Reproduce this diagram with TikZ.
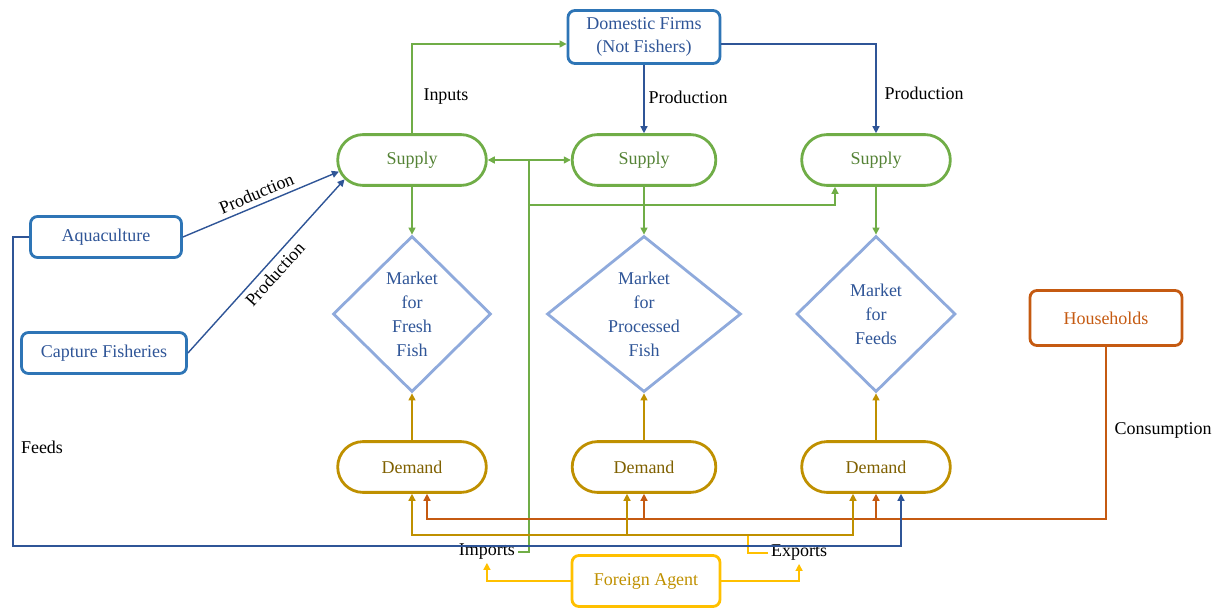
\documentclass[tikz,border=0pt]{standalone}
\usepackage{fontspec}
\setmainfont{Liberation Serif}
\usepackage{tikz}
\usetikzlibrary{positioning,arrows.meta,shapes.geometric,shapes.misc,calc}
\definecolor{firmcol} {RGB}{46,117,182}
\definecolor{firmtxt} {RGB}{47,85,151}
\definecolor{supcol}  {RGB}{112,173,71}
\definecolor{suptxt}  {RGB}{84,130,53}
\definecolor{mktcol}  {RGB}{143,170,220}
\definecolor{demcol}  {RGB}{191,144,0}
\definecolor{demtxt}  {RGB}{127,96,0}
\definecolor{housecol}{RGB}{197,90,17}
\definecolor{forcol}  {RGB}{255,192,0}

\begin{document}
\begin{tikzpicture}[
  font=\fontsize{12.8}{16.5}\selectfont,
  agent/.style ={rectangle,rounded corners=5pt,draw=#1,line width=2pt,
                 minimum height=1.025cm,align=center,inner sep=2pt},
  firm/.style  ={agent=firmcol,text=firmtxt},
  pill/.style  ={rounded rectangle,draw=#1,line width=2pt,minimum height=1.27cm},
  supbox/.style={pill=supcol,text=suptxt},
  dembox/.style={pill=demcol,text=demtxt},
  market/.style={diamond,draw=mktcol,line width=2pt,text=firmtxt,inner sep=0pt,
                 aspect=1,minimum height=3.9cm,align=center,
                 font=\fontsize{12.8}{17}\selectfont},
  link/.style  ={line width=1pt,draw=#1},
  lbl/.style   ={inner sep=2pt},
  >={Triangle[length=5pt,width=5pt]}
]
\useasboundingbox (0,0) rectangle (30.5,15.2);

\node[firm,minimum width=3.8cm,minimum height=1.325cm] (dom) at (16.1,14.275)
  {Domestic Firms\\(Not Fishers)};

\node[supbox,minimum width=3.95cm]  (sup1) at (10.3,11.2) {Supply};
\node[supbox,minimum width=3.825cm] (sup2) at (16.1,11.2) {Supply};
\node[supbox,minimum width=3.95cm]  (sup3) at (21.9,11.2) {Supply};

\node[market,minimum width=3.95cm]             (mkt1) at (10.3,7.35) {Market\\for\\Fresh\\Fish};
\node[market,aspect=1.25,minimum width=4.85cm] (mkt2) at (16.1,7.35) {Market\\for\\Processed\\Fish};
\node[market,minimum width=3.975cm]            (mkt3) at (21.9,7.35) {Market\\for\\Feeds};

\node[dembox,minimum width=3.95cm]  (dem1) at (10.3,3.525) {Demand};
\node[dembox,minimum width=3.825cm] (dem2) at (16.1,3.525) {Demand};
\node[dembox,minimum width=3.95cm]  (dem3) at (21.9,3.525) {Demand};

\node[firm,minimum width=3.775cm] (aqua) at (2.65,9.275) {Aquaculture};
\node[firm,minimum width=4.125cm] (capt) at (2.6,6.375)  {Capture Fisheries};
\node[agent=housecol,text=housecol,minimum width=3.8cm,minimum height=1.375cm]
  (house) at (27.65,7.25) {Households};
\node[agent=forcol,text=demcol,minimum width=3.7cm,minimum height=1.275cm]
  (frgn) at (16.15,0.675) {Foreign Agent};

\node[lbl] (inp)   at (11.15,12.775) {Inputs};
\node[lbl] (prod2) at (17.2,12.775)  {Production};
\node[lbl] (prod3) at (23.1,12.875)  {Production};
\node[lbl] (feeds) at (1.05,4.025)   {Feeds};
\node[lbl] (cons)  at (29.075,4.45)  {Consumption};
\node[lbl,anchor=east] (imp) at (12.95,1.4)  {Imports};
\node[lbl,anchor=west] (exp) at (19.2,1.375) {Exports};

\draw[link=supcol,->]  (sup1.north) |- ($(dom.west)+(0,-0.175)$);
\draw[link=firmtxt,->] (dom.south) -- (sup2.north);
\draw[link=firmtxt,->] ($(dom.east)+(0,-0.175)$) -| (sup3.north);
\draw[link=firmtxt,->] (aqua.east) -- (sup1.189) node[midway,above,sloped] {Production};
\draw[link=firmtxt,->] (capt.east) -- (sup1.196) node[midway,below,sloped] {Production};

\coordinate (jn) at (13.225,11.2);
\coordinate (jb) at (13.225,10.075);
\draw[link=supcol]    (imp.east) -| (jn);
\draw[link=supcol,->] (jn) -- (sup1.east);
\draw[link=supcol,->] (jn) -- (sup2.west);
\draw[link=supcol,->] (jb) -| ($(sup3.south)+(-1.025,0)$);

\foreach \i in {1,2,3} {
  \draw[link=supcol,->] (sup\i.south) -- (mkt\i.north);
  \draw[link=demcol,->] (dem\i.north) -- (mkt\i.south);
}

\coordinate (cb) at (10.675,2.225);
\draw[link=housecol,->] (house.south) |- (cb) -- (cb |- dem1.south);
\foreach \i in {2,3}
  \draw[link=housecol,->] (dem\i.south |- cb) -- (dem\i.south);

\coordinate (eg)  at (18.7,1.825);
\coordinate (d2g) at ($(dem2.south)+(-0.425,0)$);
\draw[link=forcol]    (exp.west) -| (eg);
\draw[link=demcol,->] (eg) -| (dem1.south);
\draw[link=demcol,->] (eg) -| ($(dem3.south)+(-0.575,0)$);
\draw[link=demcol,->] (d2g |- eg) -- (d2g);

\coordinate (fc)  at (0.325,1.55);
\coordinate (d3f) at ($(dem3.south)+(0.625,0)$);
\draw[link=firmtxt,->] (aqua.west) -| (fc) -| (d3f);

\draw[link=forcol,->] (frgn.west) -| (imp.south);
\draw[link=forcol,->] (frgn.east) -| (exp.south);
\end{tikzpicture}
\end{document}
